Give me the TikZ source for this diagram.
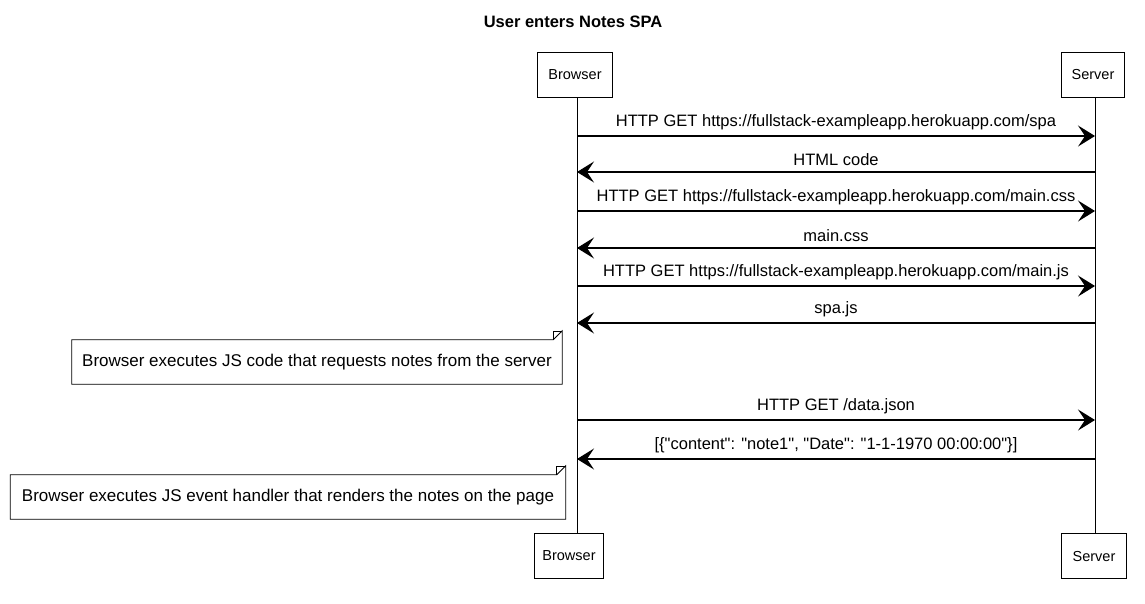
\documentclass[tikz,border=0pt]{standalone}
\usepackage{fontspec}
\setmainfont{Liberation Sans}[Ligatures=TeXOff]
\usetikzlibrary{calc, positioning}
\usetikzlibrary{arrows.meta}

\begin{document}
\begin{tikzpicture}[x=1pt, y=-1pt,
  font=\fontsize{16.5}{18}\selectfont,
  actor/.style={draw, line width=1pt, minimum height=45, inner sep=0pt, font=\fontsize{14.5}{16}\selectfont},
  life/.style={line width=0.8pt},
  msg/.style={line width=1.1pt, -{Stealth[length=17pt, width=21pt, inset=7pt]}},
  lbl/.style={above=2pt},
  memo/.style={inner sep=0pt, minimum height=44, font=\fontsize{17}{19}\selectfont}]
\useasboundingbox (0,0) rectangle (1145,603);
\def\fold{9}

% title
\node[font=\fontsize{16.5}{18}\selectfont\bfseries] (title) at (573,22) {User enters Notes SPA};

% participants
\node[actor, minimum width=75] (bTop) at (575,75) {Browser};
\node[actor, minimum width=63] (sTop) at (1093,75) {Server};
\node[actor, minimum width=69] (bBot) at (569,556) {Browser};
\node[actor, minimum width=65] (sBot) at (1094,556) {Server};

\coordinate (bL) at (577,0);
\coordinate (sL) at (1095,0);
\draw[life] (bL |- bTop.south) -- (bL |- bBot.north);
\draw[life] (sL |- sTop.south) -- (sL |- sBot.north);

% message rows
\foreach \y [count=\i] in {136,172,211,248,286,323,420,459} {
  \coordinate (b\i) at (bL |- 0,\y);
  \coordinate (s\i) at (sL |- 0,\y);
}

\draw[msg] (b1) -- node[lbl] {HTTP GET https://fullstack-exampleapp.herokuapp.com/spa} (s1);
\draw[msg] (s2) -- node[lbl] {HTML code} (b2);
\draw[msg] (b3) -- node[lbl] {HTTP GET https://fullstack-exampleapp.herokuapp.com/main.css} (s3);
\draw[msg] (s4) -- node[lbl] {main.css} (b4);
\draw[msg] (b5) -- node[lbl] {HTTP GET https://fullstack-exampleapp.herokuapp.com/main.js} (s5);
\draw[msg] (s6) -- node[lbl] {spa.js} (b6);
\draw[msg] (b7) -- node[lbl] {HTTP GET /data.json} (s7);
\draw[msg] (s8) -- node[lbl] {[\{"content": "note1", "Date": "1-1-1970 00:00:00"\}]} (b8);

% notes
\node[memo, minimum width=490] (note1) at (317,362) {Browser executes JS code that requests notes from the server};
\node[memo, minimum width=555] (note2) at (288,497) {Browser executes JS event handler that renders the notes on the page};
\foreach \n in {note1, note2} {
  \draw[line width=0.8pt, fill=white] (\n.south west) -- (\n.north west)
    -- ([xshift=-\fold]\n.north east) -- ([yshift=\fold]\n.north east)
    -- (\n.south east) -- cycle;
  \draw[line width=0.6pt] ([xshift=-\fold]\n.north east) -- ([xshift=-\fold, yshift=\fold]\n.north east)
    -- ([yshift=\fold]\n.north east);
}
\node[memo, minimum width=490] at (note1) {Browser executes JS code that requests notes from the server};
\node[memo, minimum width=555] at (note2) {Browser executes JS event handler that renders the notes on the page};
\end{tikzpicture}
\end{document}
